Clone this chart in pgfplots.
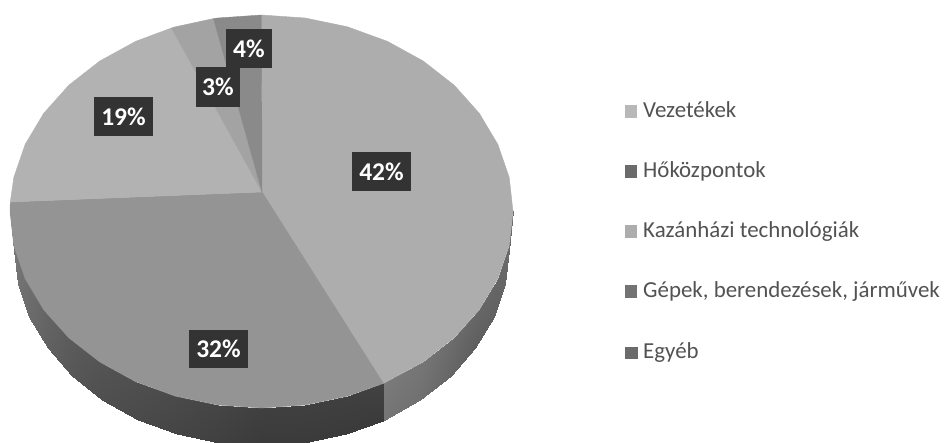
\documentclass[border=0pt]{standalone}
\usepackage{pgfplots}
\pgfplotsset{compat=1.18}
\usepackage{fontspec}
\setmainfont{Carlito}
\pgfplotsset{
  s/.style={fill=black!#1,draw=black!#1,line width=.4pt,forget plot,mark=none},
}
\tikzset{
  lab/.style={fill=black!80,text=white,font=\fontsize{25.5}{25.5}\bfseries\selectfont,inner sep=0pt,anchor=center},
  leg/.style={text=black!68,font=\fontsize{22.9}{22.9}\selectfont,inner sep=0pt,anchor=base west},
}
\begin{document}
\begin{tikzpicture}
\path[use as bounding box] (0,0) rectangle (944pt,443pt);
\begin{axis}[
  at={(0,0)},anchor=south west,
  width=944pt,height=443pt,scale only axis,
  xmin=0,xmax=944,ymin=0,ymax=443,y dir=reverse,
  hide axis,clip=true,
  colormap={g}{gray(0cm)=(0); gray(1cm)=(1)},
  point meta min=0,point meta max=1,
]
% side: gradient quads, x y brightness
\addplot[patch,patch type=rectangle,shader=interp,point meta=explicit,forget plot] table[meta=c] {
x y c
513 211.5 .42
509.2 245.6 .42
504.7 284 .40
508.5 250 .40
509.2 245.6 .42
497.8 278.7 .40
493.6 317 .38
504.7 284 .40
497.8 278.7 .40
479.3 309.8 .40
475.4 348 .37
493.6 317 .38
479.3 309.8 .40
454.2 337.8 .42
450.7 376 .40
475.4 348 .37
454.2 337.8 .42
423.2 362 .46
420.3 400.1 .44
450.7 376 .40
423.2 362 .46
383.4 383.4 .48
383 421 .46
420.3 400.1 .44
};
\addplot[patch,patch type=rectangle,shader=interp,point meta=explicit,forget plot] table[meta=c] {
x y c
383.4 383.4 .26
347.5 396.2 .25
346 434.2 .23
383 421 .23
347.5 396.2 .25
305.2 405 .25
304.4 443 .23
346 434.2 .23
305.2 405 .25
261.5 408 .25
261.5 443 .23
304.4 443 .23
261.5 408 .25
217.8 405 .27
218.6 443 .25
261.5 443 .23
217.8 405 .27
175.5 396.2 .29
177 434.2 .27
218.6 443 .25
175.5 396.2 .29
135.75 381.7 .31
138 419.7 .29
177 434.2 .27
135.75 381.7 .31
99.8 362 .33
102.2 400.1 .31
138 419.7 .29
99.8 362 .33
68.8 337.8 .36
72.3 376 .34
102.2 400.1 .31
68.8 337.8 .36
43.7 309.8 .40
47.6 348 .38
72.3 376 .34
43.7 309.8 .40
25.2 278.7 .44
29.4 317 .42
47.6 348 .38
25.2 278.7 .44
13.8 245.6 .47
18.3 284 .45
29.4 317 .42
13.8 245.6 .47
10 211.5 .49
14.5 250 .47
18.3 284 .45
};
% top wedges
\addplot[s=32] coordinates {(262,192)(261.5,15)(305.2,18)(347.5,26.8)(387.3,41.3)(423.2,61)(454.2,85.2)(479.3,113.3)(497.8,144.3)(509.2,177.4)(513,211.5)(509.2,245.6)(497.8,278.7)(479.3,309.8)(454.2,337.8)(423.2,362)(383.4,383.4)} --cycle;
\addplot[s=42] coordinates {(262,192)(383.4,383.4)(347.5,396.2)(305.2,405)(261.5,408)(217.8,405)(175.5,396.2)(135.75,381.7)(99.8,362)(68.8,337.8)(43.7,309.8)(25.2,278.7)(13.8,245.6)(10,211.5)(10.3,202)} --cycle;
\addplot[s=30] coordinates {(262,192)(10.3,202)(13.8,177.4)(25.2,144.3)(43.7,113.3)(68.8,85.2)(99.8,61)(135.75,41.3)(171.4,28)} --cycle;
\addplot[s=36] coordinates {(262,192)(171.4,28)(175.5,26.8)(213.5,18.6)} --cycle;
\addplot[s=46] coordinates {(262,192)(213.5,18.6)(217.8,18)(261.5,15)} --cycle;
% legend squares
\addplot[only marks,mark=square*,mark size=5.8pt,draw=black!28,fill=black!28,forget plot] coordinates {(630.5,111)};
\addplot[only marks,mark=square*,mark size=5.8pt,draw=black!58,fill=black!58,forget plot] coordinates {(630.5,171.5)};
\addplot[only marks,mark=square*,mark size=5.8pt,draw=black!32,fill=black!32,forget plot] coordinates {(630.5,231.5)};
\addplot[only marks,mark=square*,mark size=5.8pt,draw=black!55,fill=black!55,forget plot] coordinates {(630.5,291.5)};
\addplot[only marks,mark=square*,mark size=5.8pt,draw=black!58,fill=black!58,forget plot] coordinates {(631,352.5)};
% legend text
\node[leg] at (axis cs:643,118) {Vezetékek};
\node[leg] at (axis cs:643,178) {Hőközpontok};
\node[leg] at (axis cs:643,238) {Kazánházi technológiák};
\node[leg] at (axis cs:643,298) {Gépek, berendezések, járművek};
\node[leg] at (axis cs:643,358) {Egyéb};
% data labels
\node[lab,minimum width=59pt,minimum height=39pt] at (axis cs:381.5,171.5) {42\%};
\node[lab,minimum width=59pt,minimum height=38pt] at (axis cs:218.5,349) {32\%};
\node[lab,minimum width=59pt,minimum height=39pt] at (axis cs:123.5,116.5) {19\%};
\node[lab,minimum width=44pt,minimum height=40pt] at (axis cs:218,87) {3\%};
\node[lab,minimum width=46pt,minimum height=39pt] at (axis cs:249,48.5) {4\%};
\end{axis}
\end{tikzpicture}
\end{document}
